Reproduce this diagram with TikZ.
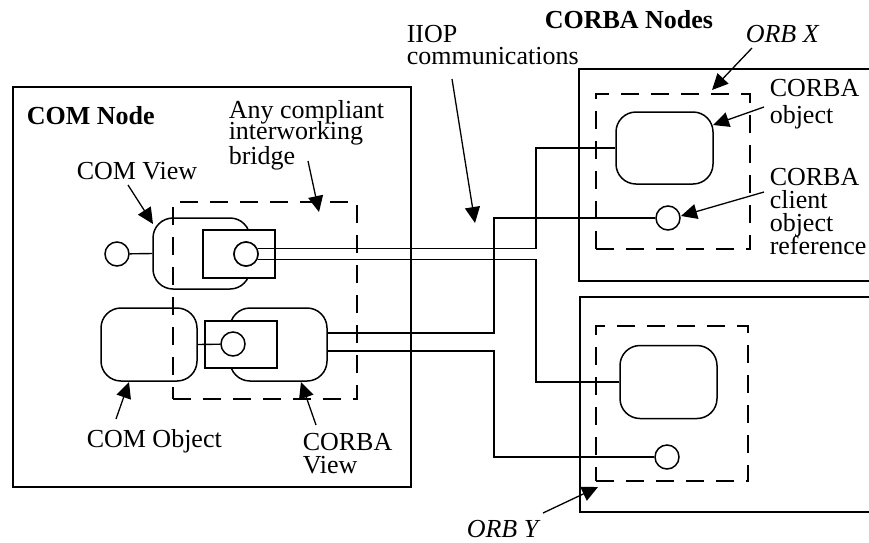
\documentclass[tikz,border=0pt]{standalone}
\usepackage{fontspec}
\setmainfont{Liberation Serif}
\usetikzlibrary{arrows.meta}
\begin{document}
\begin{tikzpicture}[x=1pt,y=-1pt,line width=1.5pt,
  lbl/.style={anchor=base west,inner sep=0pt,font=\fontsize{26}{26}\selectfont},
  lblb/.style={anchor=base west,inner sep=0pt,font=\fontsize{26}{26}\selectfont\bfseries},
  lbli/.style={anchor=base west,inner sep=0pt,font=\fontsize{26}{26}\selectfont\itshape},
  rbox/.style={draw,fill=white,rounded corners=20pt,inner sep=0pt,minimum width=97pt,minimum height=73pt},
  rectbox/.style={draw,fill=white,inner sep=0pt,minimum width=72pt,minimum height=48pt},
  port/.style={draw,fill=white,circle,inner sep=0pt,minimum size=24pt},
  dbox/.style={draw,dash pattern=on 18pt off 12pt,inner sep=0pt},
  wire/.style={line width=1.4pt},
  callout/.style={line width=1.3pt,-{Triangle[length=16pt,width=15pt]}}]
\useasboundingbox (0,0) rectangle (869,542);

% outer node boxes
\node[draw,inner sep=0pt,minimum width=398pt,minimum height=400pt] (comnode) at (212,287) {};
\draw (869,69) -- (579,69) -- (579,281) -- (869,281);
\draw (869,297) -- (580,297) -- (580,512) -- (869,512);

% rounded objects
\node[rbox,minimum width=97pt,minimum height=71pt] (cvbox) at (201.5,253.5) {};
\node[rbox,minimum width=96pt] (coobj) at (149,344.5) {};
\node[rbox] (cbview) at (278.5,344.5) {};
\node[rbox,minimum height=72pt] (xobj) at (664.5,148) {};
\node[rbox] (yobj) at (668.5,382) {};

% dashed domains
\node[dbox,minimum width=184pt,minimum height=197pt] (bridge) at (265,300.5) {};
\node[dbox,minimum width=154pt,minimum height=155pt] (orbx) at (673,171.5) {};
\node[dbox,minimum width=152pt,minimum height=155pt] (orby) at (672,403.5) {};

% bridge rectangles
\node[rectbox] (cvrect) at (239,254) {};
\node[rectbox,minimum height=47pt] (cbrect) at (241,344.5) {};

% routing coordinates
\coordinate (k1) at (536,200);
\coordinate (k2) at (494,300);
\coordinate (cb1) at ([yshift=11.5pt]cbview.east);
\coordinate (cb2) at ([yshift=-6.5pt]cbview.east);

% circles
\node[port] (cvext) at (117,254) {};
\node[port] (cvcirc) at (246,254) {};
\node[port] (cbcirc) at (233,344) {};
\node[port] (xcirc) at (668,218) {};
\node[port] (ycirc) at (667,457) {};

% wires
\draw[wire] (cvext) -- (cvbox.west);
\draw[wire] (coobj.east) -- (cbcirc);
\draw[wire] (cvcirc.25) -- (cvcirc.25 -| k1) -- (k1 |- xobj.west) -- (xobj.west);
\draw[wire] (cvcirc.-25) -- (cvcirc.-25 -| k1) -- (k1 |- yobj.west) -- (yobj.west);
\draw[wire] (cb1) -- (cb1 -| k2) -- (k2 |- xcirc.west) -- (xcirc.west);
\draw[wire] (cb2) -- (cb2 -| k2) -- (k2 |- ycirc.west) -- (ycirc.west);
\node[port] at (cvcirc) {};

% labels
\node[lblb] (tcomnode) at (26,124) {COM Node};
\node[lbl] (tany1) at (228,118) {Any compliant};
\node[lbl] (tany2) at (228,139) {interworking};
\node[lbl] (tany3) at (228,164) {bridge};
\node[lbl] (tcomview) at (76,179) {COM View};
\node[lbl] (tiiop1) at (406,42) {IIOP};
\node[lbl] (tiiop2) at (406,64) {communications};
\node[lblb] (tcorbanodes) at (544,28) {CORBA Nodes};
\node[lbli] (torbx) at (745,42) {ORB X};
\node[lbl] (tco1) at (769,96) {CORBA};
\node[lbl] (tco2) at (769,123) {object};
\node[lbl] (tcr1) at (769,185) {CORBA};
\node[lbl] (tcr2) at (769,208) {client};
\node[lbl] (tcr3) at (769,231) {object};
\node[lbl] (tcr4) at (769,254) {reference};
\node[lbl] (tcomobj) at (86,447) {COM Object};
\node[lbl] (tcv1) at (302,450) {CORBA};
\node[lbl] (tcv2) at (302,473) {View};
\node[lbli] (torby) at (466,537) {ORB Y};

% callout arrows
\coordinate (a1s) at (128,185); \coordinate (a1e) at (153,224);
\coordinate (a2s) at (308,161); \coordinate (a2e) at (319,212);
\coordinate (a3s) at (452,79);  \coordinate (a3e) at (475,223);
\coordinate (a4s) at (752,48);  \coordinate (a4e) at (712,90);
\coordinate (a5s) at (764,107); \coordinate (a5e) at (713,125);
\coordinate (a6s) at (764,192); \coordinate (a6e) at (681,216);
\coordinate (a7s) at (116,419); \coordinate (a7e) at (129,382);
\coordinate (a8s) at (316,425); \coordinate (a8e) at (301,382);
\coordinate (a9s) at (543,513); \coordinate (a9e) at (598,487);
\draw[callout] (a1s) -- (a1e);
\draw[callout] (a2s) -- (a2e);
\draw[callout] (a3s) -- (a3e);
\draw[callout] (a4s) -- (a4e);
\draw[callout] (a5s) -- (a5e);
\draw[callout] (a6s) -- (a6e);
\draw[callout] (a7s) -- (a7e);
\draw[callout] (a8s) -- (a8e);
\draw[callout] (a9s) -- (a9e);
\end{tikzpicture}
\end{document}
